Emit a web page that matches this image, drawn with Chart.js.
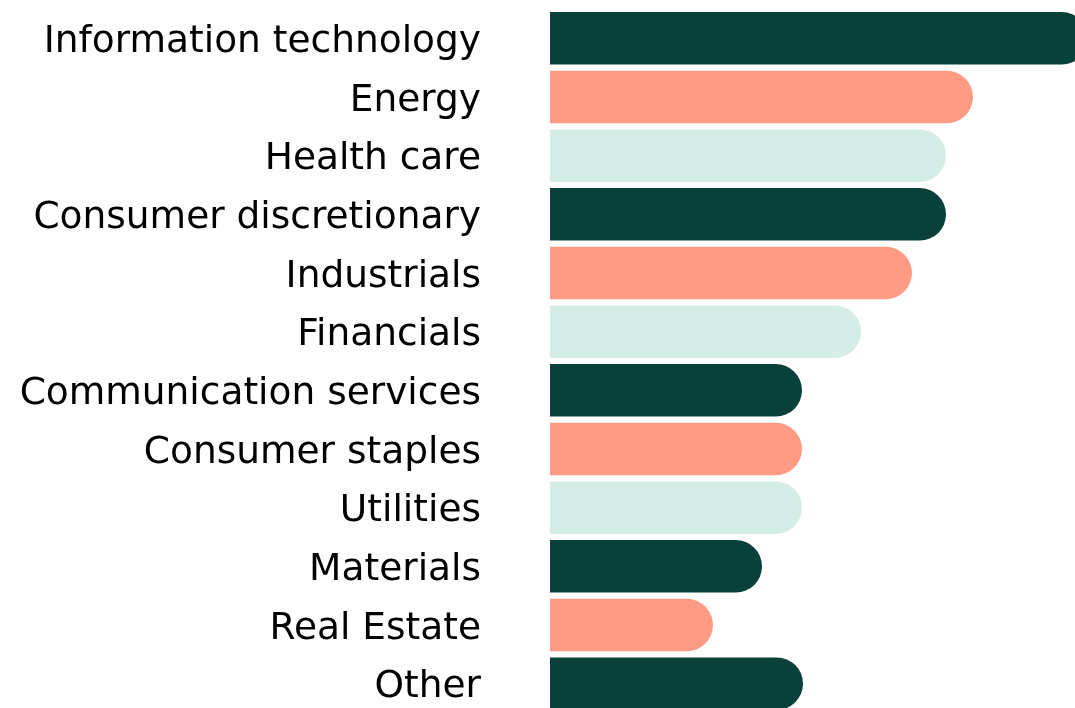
<!DOCTYPE html>
<html>
<head>
<meta charset="utf-8">
<script src="https://cdn.jsdelivr.net/npm/chart.js@4/dist/chart.umd.min.js"></script>
<style>
    html, body { margin: 0; padding: 0; background: #fff; overflow: hidden; }
    #wrap { width: 1075px; height: 713px; }
</style>
</head>
<body>
<div id="wrap"><canvas id="sectorChart" width="1075" height="713"></canvas></div>
<script>
// sectors, top to bottom
var sectors = [
    'Information technology',
    'Energy',
    'Health care',
    'Consumer discretionary',
    'Industrials',
    'Financials',
    'Communication services',
    'Consumer staples',
    'Utilities',
    'Materials',
    'Real Estate',
    'Other'
];

// bar lengths (IT runs past the right edge)
var weights = [26.9, 21.15, 19.8, 19.8, 18.1, 15.55, 12.6, 12.6, 12.6, 10.6, 8.15, 12.65];

var barColours = [
    '#09413a', '#ff9a85', '#d4ede6',
    '#09413a', '#ff9a85', '#d4ede6',
    '#09413a', '#ff9a85', '#d4ede6',
    '#09413a', '#ff9a85', '#09413a'
];

var axisMax = 26.25;

function initSectorChart(){
    var cont = document.getElementById('sectorChart').getContext('2d');
    var myChart = new Chart(cont, {
        type: 'bar',
        data: {
            labels: sectors,
            datasets: [{
                label: '',
                data: weights,
                backgroundColor: barColours,
                borderWidth: 0,
                borderSkipped: 'start',
                borderRadius: 27,
                categoryPercentage: 1,
                barPercentage: 0.895
            }]
        },
        options: {
            indexAxis: 'y',
            responsive: false,
            animation: false,
            layout: {
                padding: { top: 9, right: 0, bottom: 0, left: 0 }
            },
            scales: {
                x: {
                    display: false,
                    min: 0,
                    max: axisMax
                },
                y: {
                    grid: { display: false, drawTicks: false },
                    border: { display: false },
                    ticks: {
                        color: '#000',
                        padding: 69,
                        labelOffset: 4,
                        font: { family: 'DejaVu Sans', size: 37.5 }
                    },
                    afterFit: function(scale){
                        // fixed label column, and no extra top/bottom room from the tick padding
                        scale.width = 550;
                        scale.paddingTop = 0;
                        scale.paddingBottom = 0;
                    }
                }
            },
            plugins: {
                legend: { display: false },
                tooltip: { enabled: false }
            }
        }
    });
}

document.addEventListener('DOMContentLoaded', function() {
    initSectorChart();
});
</script>
</body>
</html>
